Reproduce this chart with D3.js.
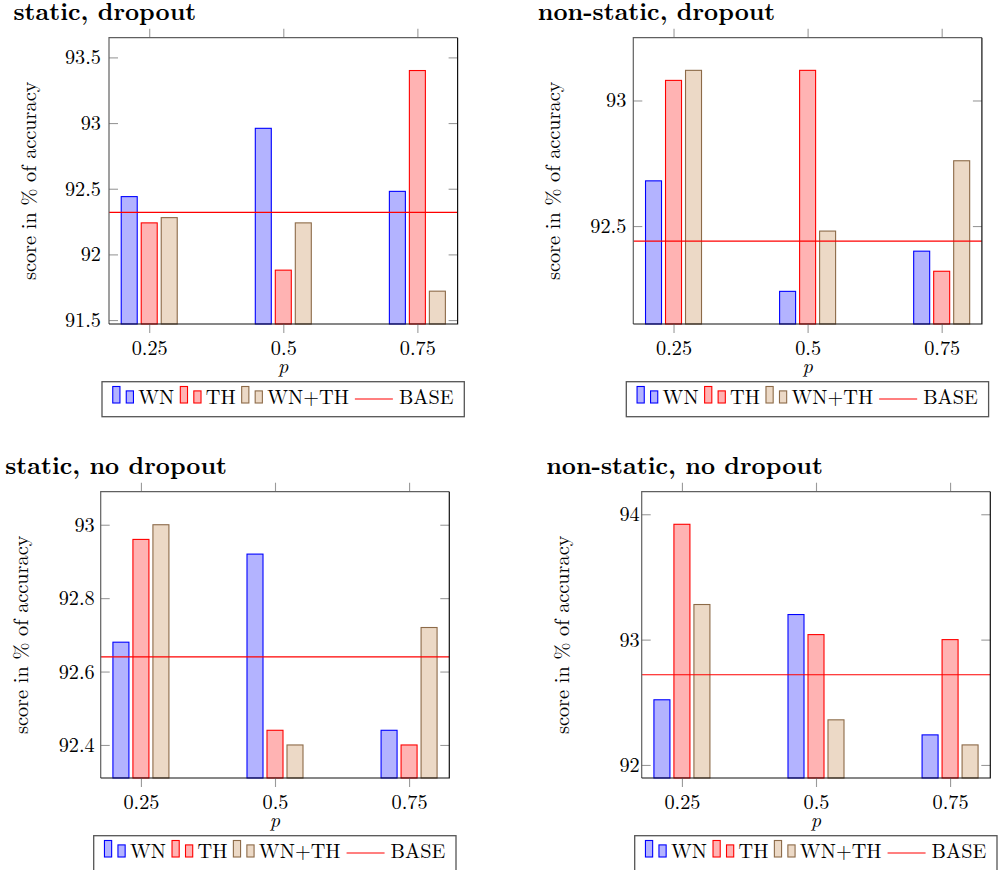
<!DOCTYPE html>
<html><head><meta charset="utf-8">
<script src="https://cdn.jsdelivr.net/npm/d3@7"></script>
<style>body{margin:0;background:#fff}</style></head>
<body><svg id="c" width="998" height="870"></svg>
<script>
const categories = [0.25, 0.5, 0.75];
const categoryLabels = ["0.25", "0.5", "0.75"];
const seriesNames = ["WN", "TH", "WN+TH"];
const baseName = "BASE";
const panelTitles = ["static, dropout", "non-static, dropout", "static, no dropout", "non-static, no dropout"];
const xLabel = "p";
const yLabel = "score in % of accuracy";

const staticDropoutWN = [92.44, 92.96, 92.48];
const staticDropoutTH = [92.24, 91.88, 93.40];
const staticDropoutWNTH = [92.28, 92.24, 91.72];
const staticDropoutBase = 92.32;

const nonStaticDropoutWN = [92.68, 92.24, 92.40];
const nonStaticDropoutTH = [93.08, 93.12, 92.32];
const nonStaticDropoutWNTH = [93.12, 92.48, 92.76];
const nonStaticDropoutBase = 92.44;

const staticNoDropoutWN = [92.68, 92.92, 92.44];
const staticNoDropoutTH = [92.96, 92.44, 92.40];
const staticNoDropoutWNTH = [93.00, 92.40, 92.72];
const staticNoDropoutBase = 92.64;

const nonStaticNoDropoutWN = [92.52, 93.20, 92.24];
const nonStaticNoDropoutTH = [93.92, 93.04, 93.00];
const nonStaticNoDropoutWNTH = [93.28, 92.36, 92.16];
const nonStaticNoDropoutBase = 92.72;

const yDomain1 = [91.47, 93.65], yTicks1 = [91.5, 92, 92.5, 93, 93.5], yTickLabels1 = ["91.5", "92", "92.5", "93", "93.5"];
const yDomain2 = [92.11, 93.25], yTicks2 = [92.5, 93], yTickLabels2 = ["92.5", "93"];
const yDomain3 = [92.31, 93.09], yTicks3 = [92.4, 92.6, 92.8, 93], yTickLabels3 = ["92.4", "92.6", "92.8", "93"];
const yDomain4 = [91.896, 94.18], yTicks4 = [92, 93, 94], yTickLabels4 = ["92", "93", "94"];
const xDomain = [0.175, 0.825];

const fills = ["#b3b3ff", "#ffb3b3", "#ecd9c6"];
const strokes = ["#0000ff", "#ff0000", "#8c6a48"];
const baseColor = "#ff0000";
const FONT = '"Latin Modern Roman"';
const FS = "20.3px";

const panels = [
  {title: panelTitles[0], series: [staticDropoutWN, staticDropoutTH, staticDropoutWNTH], base: staticDropoutBase,
   yDomain: yDomain1, yTicks: yTicks1, yTickLabels: yTickLabels1, left: 109, top: 37.7, labPad: 8},
  {title: panelTitles[1], series: [nonStaticDropoutWN, nonStaticDropoutTH, nonStaticDropoutWNTH], base: nonStaticDropoutBase,
   yDomain: yDomain2, yTicks: yTicks2, yTickLabels: yTickLabels2, left: 633.3, top: 37.7, labPad: 7},
  {title: panelTitles[2], series: [staticNoDropoutWN, staticNoDropoutTH, staticNoDropoutWNTH], base: staticNoDropoutBase,
   yDomain: yDomain3, yTicks: yTicks3, yTickLabels: yTickLabels3, left: 100.7, top: 491.7, labPad: 6},
  {title: panelTitles[3], series: [nonStaticNoDropoutWN, nonStaticNoDropoutTH, nonStaticNoDropoutWNTH], base: nonStaticNoDropoutBase,
   yDomain: yDomain4, yTicks: yTicks4, yTickLabels: yTickLabels4, left: 641.7, top: 491.7, labPad: 2}
];
const W = 348.6, H = 286.3;
const svg = d3.select("#c");

panels.forEach(p => {
  const g = svg.append("g").attr("transform", `translate(${p.left},${p.top})`);
  const x = d3.scaleLinear().domain(xDomain).range([0, W]);
  const y = d3.scaleLinear().domain(p.yDomain).range([H, 0]);
  const inner = d3.scaleBand().domain(seriesNames).range([-28, 28]).paddingInner(0.2).paddingOuter(0);

  // title
  svg.append("text").attr("x", p.left - 95.5).attr("y", p.top - 17.5)
    .style("font-family", FONT).style("font-weight", "bold").style("font-size", "24.5px")
    .attr("fill", "#000").text(p.title);

  // bars
  seriesNames.forEach((s, si) => {
    g.append("g").selectAll("rect").data(p.series[si]).join("rect")
      .attr("x", (d, i) => x(categories[i]) + inner(s))
      .attr("width", inner.bandwidth())
      .attr("y", d => y(d))
      .attr("height", d => H - y(d))
      .attr("fill", fills[si]).attr("stroke", strokes[si]).attr("stroke-width", 1.1);
  });

  // base line
  g.append("line").attr("x1", 0).attr("x2", W).attr("y1", y(p.base)).attr("y2", y(p.base))
    .attr("stroke", baseColor).attr("stroke-width", 1.1);

  // axes
  const styleAxis = sel => {
    sel.attr("font-family", null).attr("font-size", null);
    sel.select(".domain").remove();
    sel.selectAll(".tick line").attr("stroke", "#9a9a9a").attr("stroke-width", 1.1);
    sel.selectAll(".tick text").style("font-family", FONT).style("font-size", FS).attr("fill", "#000");
  };
  g.append("g").attr("transform", `translate(0,${H})`)
    .call(d3.axisBottom(x).tickValues(categories).tickFormat((d, i) => categoryLabels[i]).tickSize(9).tickPadding(8))
    .call(styleAxis);
  g.append("g")
    .call(d3.axisTop(x).tickValues(categories).tickFormat("").tickSize(9))
    .call(styleAxis);
  g.append("g")
    .call(d3.axisLeft(y).tickValues(p.yTicks).tickFormat((d, i) => p.yTickLabels[i]).tickSize(-9).tickPadding(p.labPad))
    .call(styleAxis);
  g.append("g").attr("transform", `translate(${W},0)`)
    .call(d3.axisRight(y).tickValues(p.yTicks).tickFormat("").tickSize(-9))
    .call(styleAxis);

  // box
  g.append("path").attr("d", `M0,${H}V0H${W}`).attr("fill", "none").attr("stroke", "#606060").attr("stroke-width", 1.2);
  g.append("path").attr("d", `M0,${H}H${W}V0`).attr("fill", "none").attr("stroke", "#111").attr("stroke-width", 1.2);

  // axis labels
  g.append("text").attr("x", x(0.5)).attr("y", H + 49).attr("text-anchor", "middle")
    .style("font-family", FONT).style("font-style", "italic").style("font-size", FS).text(xLabel);
  g.append("text").attr("transform", `translate(-73,${H / 2}) rotate(-90)`).attr("text-anchor", "middle")
    .style("font-family", FONT).style("font-size", FS).text(yLabel);

  // legend
  const lg = g.append("g").attr("transform", `translate(-7,${H + 57.7})`);
  const LW = W + 13.7, LH = 35;
  lg.append("rect").attr("width", LW).attr("height", LH).attr("fill", "#fff").attr("stroke", "#555").attr("stroke-width", 1.3);
  const items = lg.append("g");
  let cx = 0;
  seriesNames.forEach((s, si) => {
    items.append("rect").attr("x", cx).attr("y", 4.8).attr("width", 7.2).attr("height", 16.5)
      .attr("fill", fills[si]).attr("stroke", strokes[si]).attr("stroke-width", 1.1);
    items.append("rect").attr("x", cx + 13.5).attr("y", 9.2).attr("width", 7.2).attr("height", 12.1)
      .attr("fill", fills[si]).attr("stroke", strokes[si]).attr("stroke-width", 1.1);
    const t = items.append("text").attr("x", cx + 25.5).attr("y", 22)
      .style("font-family", FONT).style("font-size", FS).text(s);
    cx += 25.5 + t.node().getComputedTextLength() + 6;
  });
  items.append("line").attr("x1", cx).attr("x2", cx + 38).attr("y1", 17.3).attr("y2", 17.3)
    .attr("stroke", baseColor).attr("stroke-width", 1.1);
  const bt = items.append("text").attr("x", cx + 44).attr("y", 22)
    .style("font-family", FONT).style("font-size", FS).text(baseName);
  const total = cx + 44 + bt.node().getComputedTextLength();
  items.attr("transform", `translate(${(LW - total) / 2},0)`);
});
</script>
</body></html>
